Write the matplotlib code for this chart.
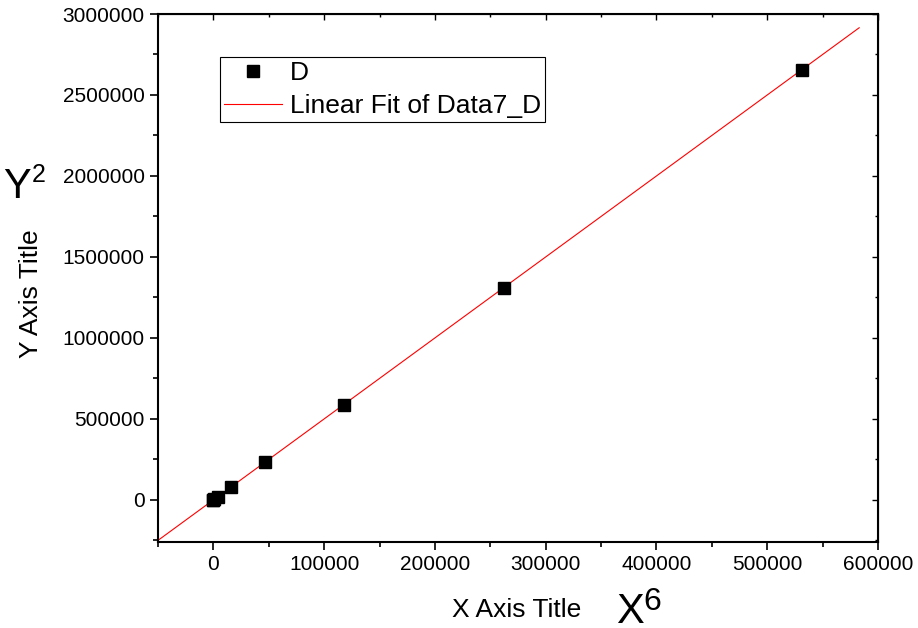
import numpy as np
import matplotlib.pyplot as plt
from matplotlib.ticker import MultipleLocator, ScalarFormatter

plt.rcParams['font.family'] = ['Liberation Sans', 'DejaVu Sans']

# data
x_vals = [1, 64, 729, 4096, 15625, 46656, 117649, 262144, 531441]
y_vals = [5, 320, 3645, 20480, 78125, 233280, 588245, 1310720, 2657205]

x_ticks = [0, 100000, 200000, 300000, 400000, 500000, 600000]
y_ticks = [0, 500000, 1000000, 1500000, 2000000, 2500000, 3000000]

W, H = 918, 628
fig = plt.figure(figsize=(W / 100, H / 100), dpi=100)
ax = fig.add_axes([158 / W, 1 - 542 / H, 720 / W, 528 / H])

# linear fit
slope, intercept = np.polyfit(x_vals, y_vals, 1)
fit_x = np.array([-50000, 583000])
ax.plot(fit_x, slope * fit_x + intercept, color='red', lw=0.8,
        label='Linear Fit of Data7_D', zorder=2)
ax.plot(x_vals, y_vals, 's', color='black', ms=8, label='D', zorder=3)

ax.set_xlim(-50000, 600000)
ax.set_ylim(-260000, 3000000)
ax.set_xticks(x_ticks)
ax.set_yticks(y_ticks)
fmt = ScalarFormatter(useOffset=False)
fmt.set_scientific(False)
ax.yaxis.set_major_formatter(fmt)
ax.xaxis.set_minor_locator(MultipleLocator(50000))
ax.yaxis.set_minor_locator(MultipleLocator(250000))
ax.tick_params(which='major', direction='out', length=6, width=1.2, labelsize=15)
ax.tick_params(which='minor', direction='out', length=3.5, width=1.2)
for s in ax.spines.values():
    s.set_linewidth(1.5)

# inward ticks on top and right
tx = ax.secondary_xaxis('top')
tx.set_xticks(x_ticks)
tx.xaxis.set_minor_locator(MultipleLocator(50000))
tx.tick_params(which='major', direction='in', length=4, width=1.0, labeltop=False)
tx.tick_params(which='minor', direction='in', length=2.5, width=1.0)
ry = ax.secondary_yaxis('right')
ry.set_yticks(y_ticks)
ry.yaxis.set_minor_locator(MultipleLocator(250000))
ry.tick_params(which='major', direction='in', length=4, width=1.0, labelright=False)
ry.tick_params(which='minor', direction='in', length=2.5, width=1.0)

# axis titles
fig.text(517 / W, 1 - 617 / H, 'X Axis Title', fontsize=19, ha='center', va='baseline')
fig.text(31 / W, 1 - 294 / H, 'Y Axis Title', fontsize=19, ha='center', va='center',
         rotation=90)
# big X^6 and Y^2 annotations
fig.text(616 / W, 1 - 623 / H, 'X', fontsize=30, ha='left', va='baseline')
fig.text(643 / W, 1 - 610 / H, '6', fontsize=23, ha='left', va='baseline')
fig.text(3 / W, 1 - 198 / H, 'Y', fontsize=30, ha='left', va='baseline')
fig.text(32 / W, 1 - 182 / H, '2', fontsize=18, ha='left', va='baseline')

leg = ax.legend(handles=ax.get_lines()[::-1], loc='upper left',
                bbox_to_anchor=(62 / 720, 1 - 43 / 528), fontsize=19,
                frameon=True, fancybox=False, edgecolor='black', framealpha=1,
                borderpad=0.15, handlelength=2.2, handletextpad=0.3,
                labelspacing=0.35, borderaxespad=0)
leg.get_frame().set_linewidth(0.8)

plt.savefig('out.png', dpi=100)
